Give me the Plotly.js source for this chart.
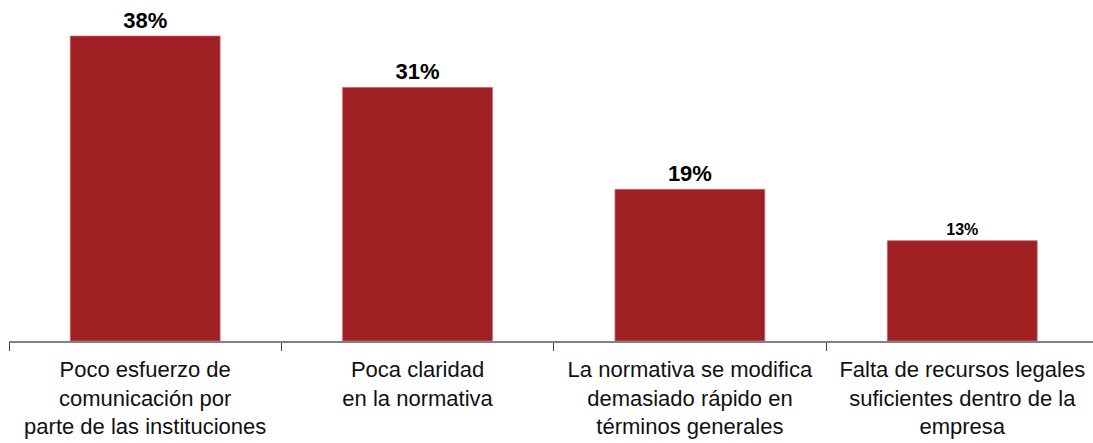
<!DOCTYPE html>
<html>
<head>
<meta charset="utf-8">
<script src="https://cdn.plot.ly/plotly-3.0.1.min.js"></script>
<style>html,body{margin:0;padding:0;background:#fff;}#chart{width:1093px;height:443px;}</style>
</head>
<body>
<div id="chart"></div>
<script>
const categories = [
  "Poco esfuerzo de<br>comunicación por<br>parte de las instituciones",
  "Poca claridad<br>en la normativa",
  "La normativa se modifica<br>demasiado rápido en<br>términos generales",
  "Falta de recursos legales<br>suficientes dentro de la<br>empresa"
];
const values = [38, 31.6, 18.9, 12.5];
const valueLabels = ["38%", "31%", "19%", "13%"];
const labelSizes = [22, 22, 22, 16];

Plotly.newPlot('chart', [{
  type: 'bar',
  x: categories,
  y: values,
  text: valueLabels,
  textposition: 'outside',
  texttemplate: '<b>%{text}</b>',
  textfont: {family: 'Liberation Sans, Arial, sans-serif', size: labelSizes, color: '#000'},
  cliponaxis: false,
  width: 0.55,
  marker: {color: '#A01F22', line: {color: '#C46A6A', width: 0.8}},
  hoverinfo: 'none'
}], {
  width: 1093, height: 443,
  margin: {l: 9, r: 0, t: 20, b: 102},
  paper_bgcolor: '#fff', plot_bgcolor: '#fff',
  showlegend: false,
  xaxis: {
    type: 'category',
    range: [-0.5, 3.48],
    showline: true, linecolor: '#808080', linewidth: 1.5,
    ticks: 'outside', tickson: 'boundaries', ticklen: 8, tickcolor: '#404040', tickwidth: 1,
    ticklabelstandoff: 8,
    tickfont: {family: 'Liberation Sans, Arial, sans-serif', size: 22, color: '#111'},
    showgrid: false, zeroline: false, fixedrange: true
  },
  yaxis: {
    range: [0, 40],
    visible: false, showgrid: false, zeroline: false, fixedrange: true
  },
  bargap: 0.45
}, {displayModeBar: false, staticPlot: true});
</script>
</body>
</html>
